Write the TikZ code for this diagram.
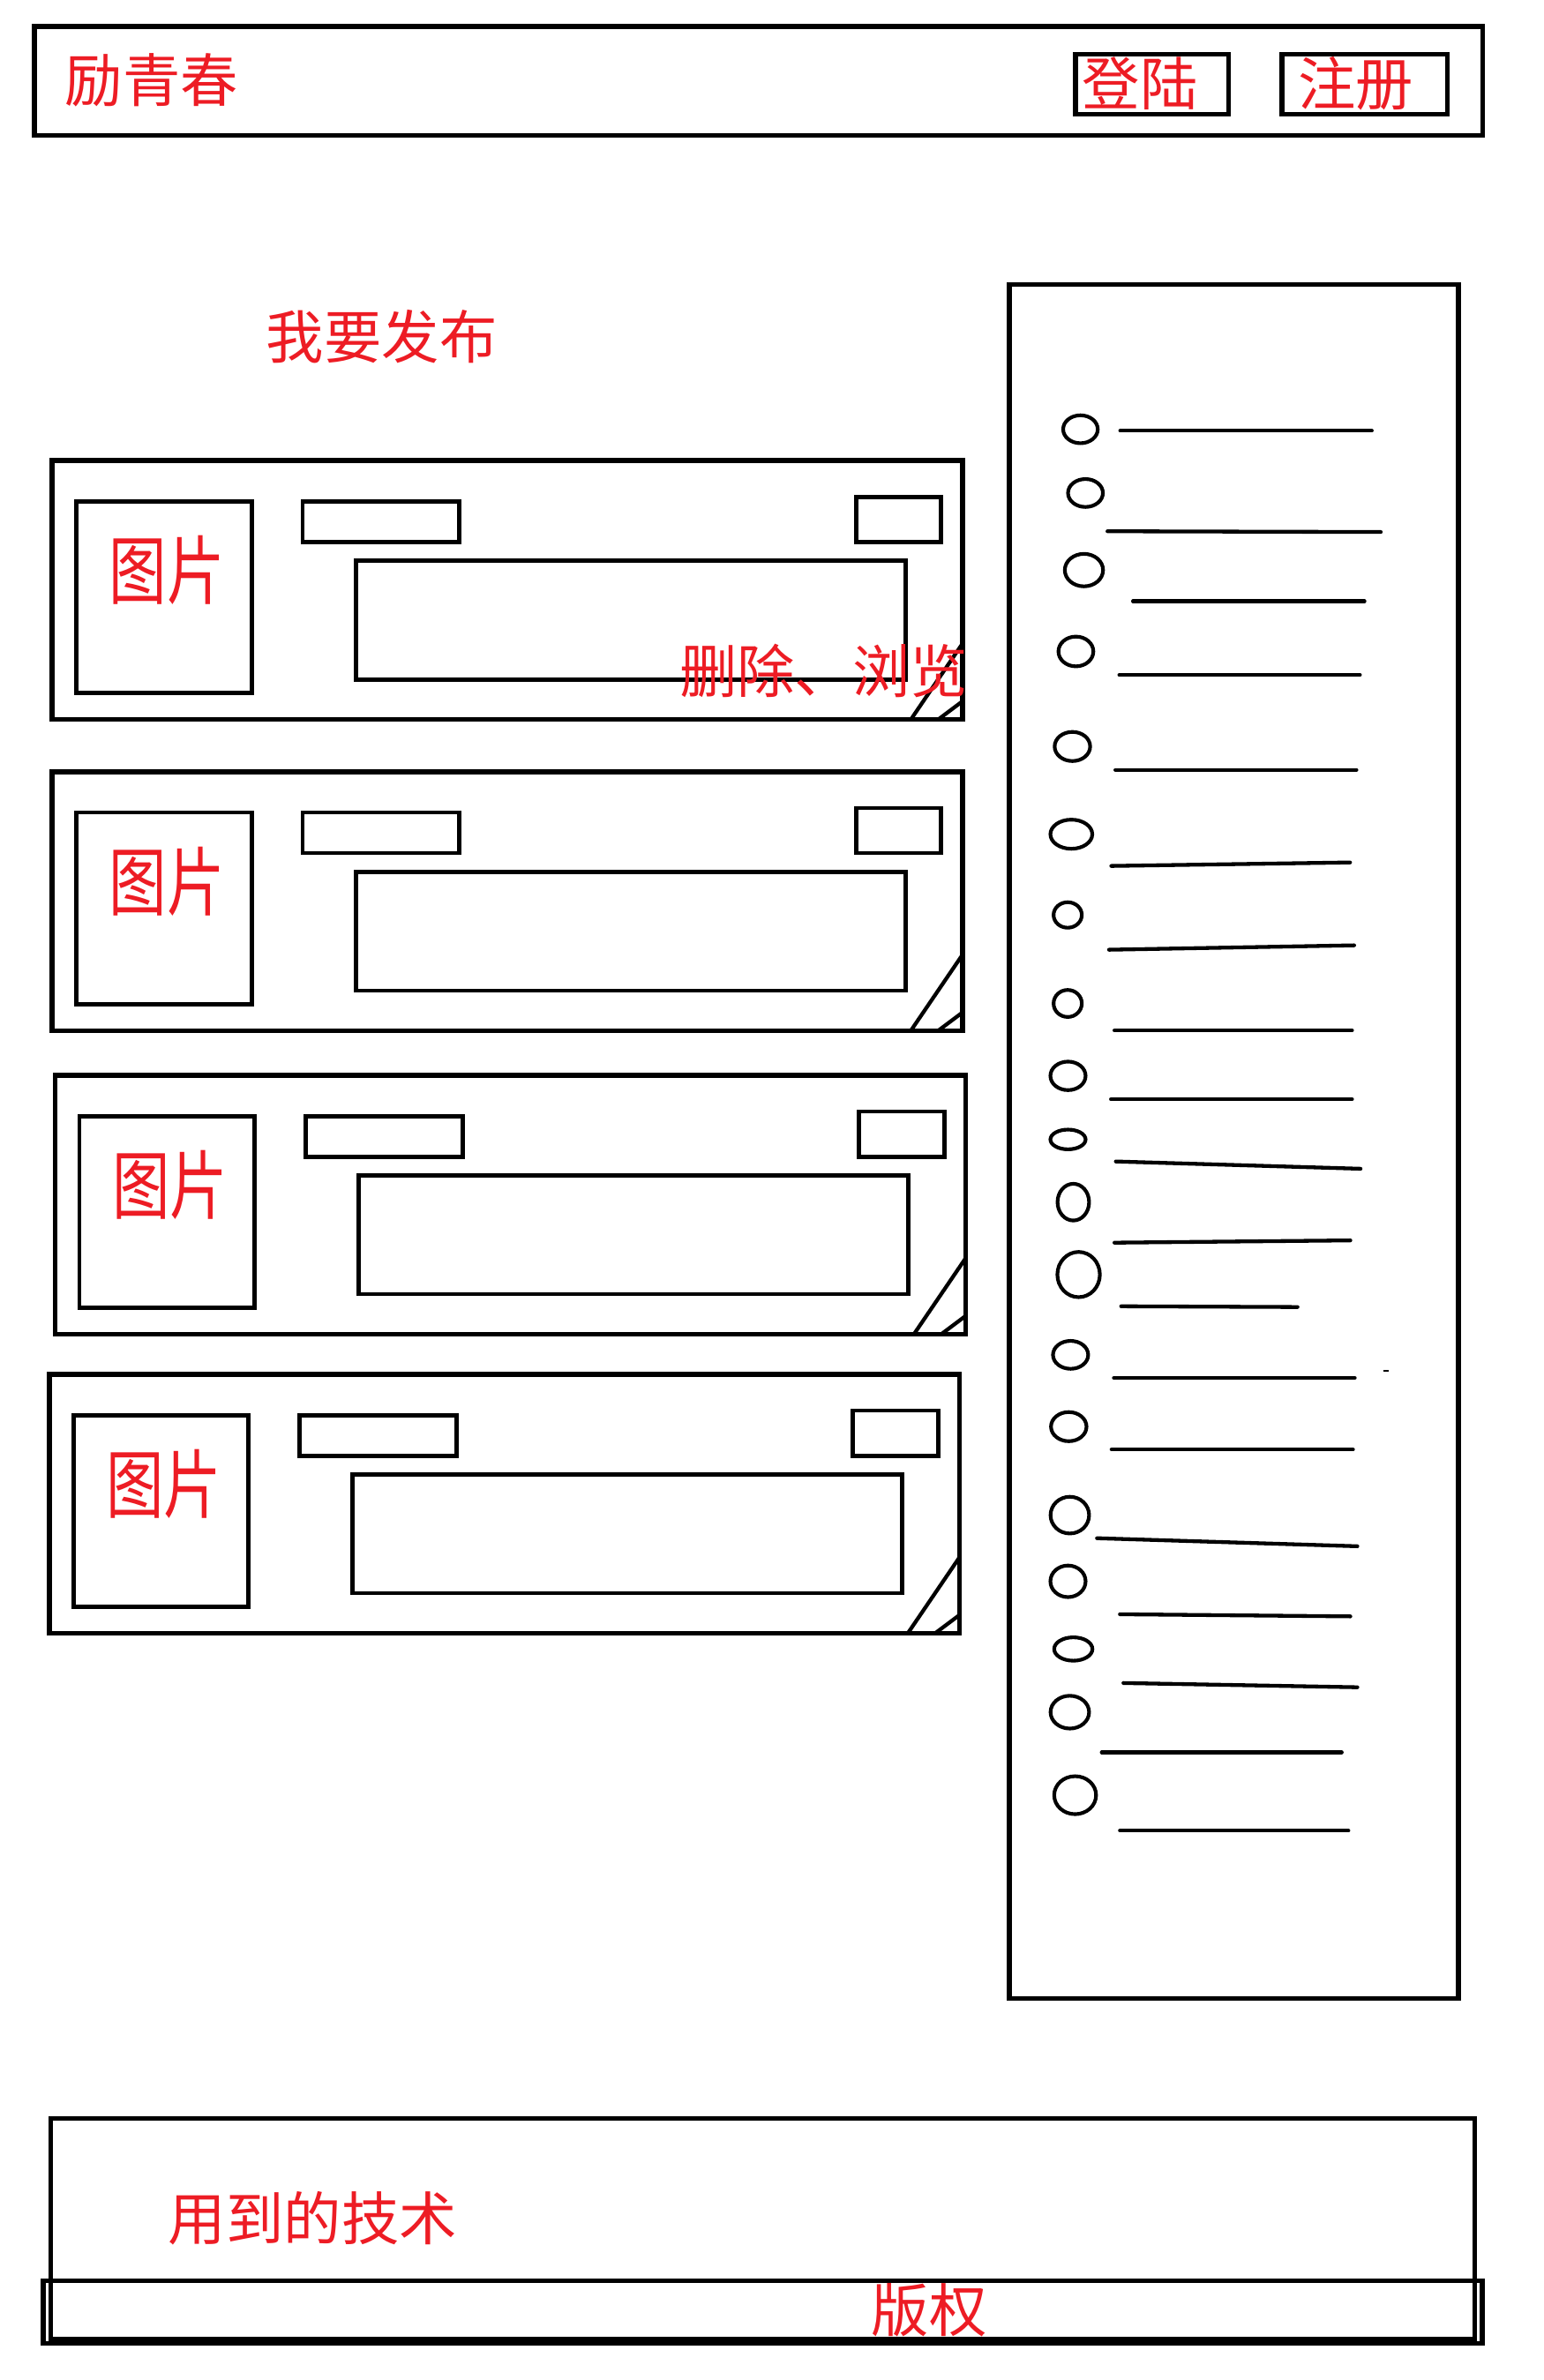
\documentclass[tikz,border=0pt]{standalone}
\usepackage{fontspec}
\setmainfont{Noto Sans CJK SC}
\definecolor{paintred}{HTML}{ED1C24}
\tikzset{
  wirebox/.style={draw=black, line width=3.2pt},
  thinbox/.style={draw=black, line width=2.8pt},
  itemline/.style={draw=black, line width=2.5pt, line cap=round},
  bullet/.style={draw=black, line width=2.4pt},
  redtext/.style={text=paintred, font=\fontsize{38}{38}\selectfont, inner sep=0pt},
}

\begin{document}
\begin{tikzpicture}[x=1pt, y=-1pt]
  \useasboundingbox (0,0) rectangle (1017,1568);

  % 顶部导航栏
  \draw[wirebox] (22.8,17.3) rectangle (976.6,89.1);
  \node[redtext] (brand) at (100,53) {励青春};
  \draw[wirebox] (708.3,35.8) rectangle (809.4,75.2);
  \node[redtext] (login) at (751,55) {登陆};
  \draw[wirebox] (844.3,35.8) rectangle (953.3,75.2);
  \node[redtext] (signup) at (893,55) {注册};

  % 发布入口
  \node[redtext] (publish) at (251.5,221.5) {我要发布};

  % 动态卡片
  \foreach \cx/\cy [count=\i] in {33/302, 33/507, 35/707, 31/904} {
    \begin{scope}[shift={(\cx,\cy)}]
      \draw[wirebox] (1.4,1.4) rectangle (601,172);
      \draw[thinbox] (17.3,28.3) rectangle (132.7,154.6);
      \draw[thinbox] (166.3,28.3) rectangle (269.7,55);
      \draw[thinbox] (530.8,25.3) rectangle (587,55);
      \draw[thinbox] (201.3,67.3) rectangle (563.4,145.6);
      \draw[itemline, line cap=butt] (567,172) -- (601,122);
      \draw[itemline, line cap=butt] (585,172) -- (601,160);
      \node[redtext] (pic\i) at (77,73.5) {\scalebox{1}[1.3]{图片}};
    \end{scope}
  }
  \node[redtext] (actions) at (542.5,442) {删除、浏览};

  % 右侧列表
  \draw[wirebox] (664.8,187.4) rectangle (960.6,1316.6);
  \foreach \ex/\ey/\rx/\ry/\la/\lb/\lc/\ld in {
      711.7/282.8/12.6/10.4/737.9/283.8/903.6/283.8,
      715/324.8/12.7/10.4/729.5/350/909.5/350.5,
      714/375.6/13.8/11.9/746.3/396.1/898.8/396.1,
      708.7/429.2/12.7/11/737.3/444.7/895.8/444.7,
      706.4/491.8/12.9/10.8/734.7/507.2/893.5/507.2,
      705.7/549.6/15/10.8/732/570.5/889.3/568.2,
      703.3/602.8/10.5/9.6/730.5/625.7/892/622.8,
      703.3/661.1/10.5/10.1/734.1/678.9/890.6/678.9,
      703.5/708.8/12.8/10.6/731.8/724.2/890.6/724.2,
      703.5/750.7/12.8/7.7/735/765.2/896.2/770,
      707/792/11.6/13.3/734.1/818.7/889.5/817.2,
      710.5/839.7/15.2/16.1/738.5/860.6/854.7/861.1,
      705.2/892.6/12.8/10.4/733.7/907.8/892.4/907.8,
      704/939.9/12.9/10.8/732.2/955/891.2/955,
      704.7/998.2/13.9/13.3/722.6/1013.4/894.1/1018.7,
      703.5/1041.8/12.8/11.6/737.7/1063.5/889.5/1064.9,
      707/1086.4/13.8/8.9/740/1108.8/894.1/1111.6,
      704.7/1128/13.9/12/725.7/1154.5/883.8/1154.5,
      708.2/1182.7/15/13.7/737.7/1206.1/888.2/1206.1} {
    \draw[bullet] (\ex,\ey) ellipse [x radius=\rx-1.2, y radius=\ry-1.2];
    \draw[itemline] (\la,\lb) -- (\lc,\ld);
  }
  \draw[draw=black, line width=1.4pt] (911,903) -- (915,903);

  % 页脚
  \draw[thinbox] (33.5,1395.5) rectangle (971.5,1541);
  \draw[wirebox] (28.5,1502.5) rectangle (976.5,1544);
  \node[redtext] (tech) at (206,1461.5) {用到的技术};
  \node[redtext] (copyright) at (612,1522) {版权};
\end{tikzpicture}
\end{document}
